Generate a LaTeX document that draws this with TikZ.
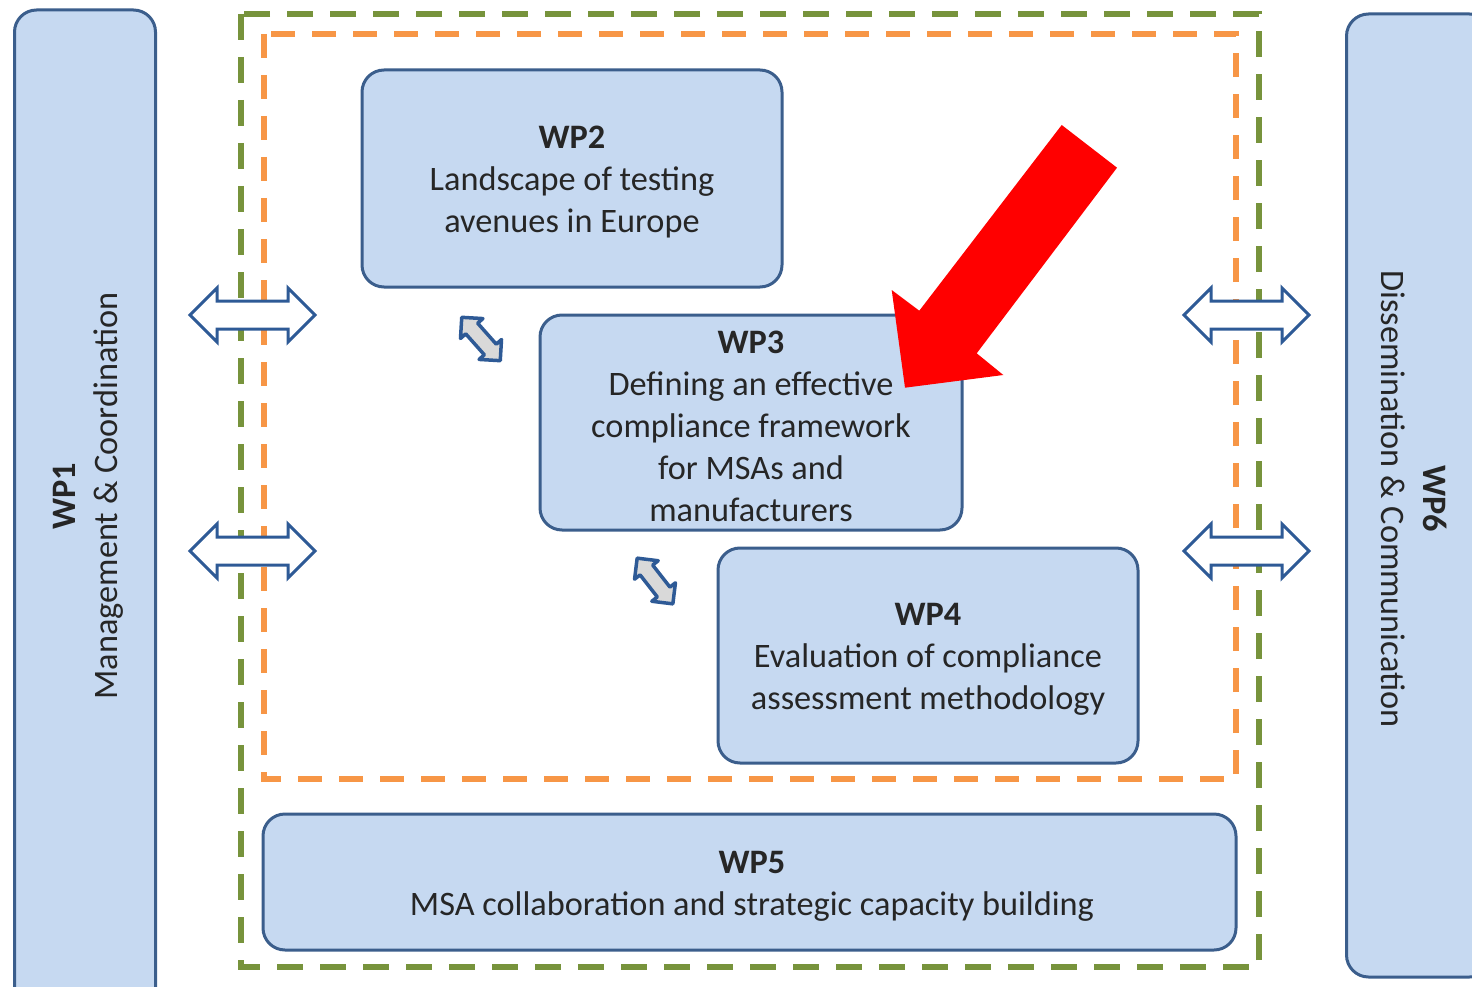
\documentclass[tikz,border=0pt]{standalone}
\usepackage{fontspec}
\setmainfont{Carlito}
\definecolor{boxfill}{HTML}{C6D9F1}
\definecolor{boxline}{HTML}{3B5E8C}
\definecolor{dgreen}{HTML}{77933C}
\definecolor{dorange}{HTML}{F79646}
\definecolor{arrline}{HTML}{2E5A96}
\definecolor{arrgray}{HTML}{D9D9D9}
\newcommand\wparrow[7]{%
  \begin{scope}[shift={#1},rotate=#2]
    \draw[#7] (-#3,0) -- (-#3+#6,#4) -- (-#3+#6,#5) -- (#3-#6,#5) -- (#3-#6,#4) -- (#3,0)
      -- (#3-#6,-#4) -- (#3-#6,-#5) -- (-#3+#6,-#5) -- (-#3+#6,-#4) -- cycle;
  \end{scope}}
\begin{document}
\begin{tikzpicture}[x=1pt,y=-1pt,
  wpbox/.style={draw=boxline, fill=boxfill, line width=3pt, rounded corners=22pt, inner sep=0pt},
  wptext/.style={align=center, inner sep=0pt, font=\fontsize{34.3}{42}\selectfont, text=black!85},
  greendash/.style={draw=dgreen, line width=6pt, dash pattern=on 26pt off 17pt},
  orangedash/.style={draw=dorange, line width=6pt, dash pattern=on 24pt off 17pt},
  bigarr/.style={draw=arrline, fill=white, line width=3pt},
  smallarr/.style={draw=arrline, fill=arrgray, line width=3.5pt, line join=round}]
\useasboundingbox (0,0) rectangle (1472,987);
% dashed frames
\draw[greendash] (241,14) rectangle (1259,967);
\draw[orangedash] (264,34) rectangle (1236,779);
% side boxes
\node[wpbox, minimum width=141pt, minimum height=1000pt] (wp1) at (85,510) {};
\node[wptext, rotate=90] (wp1t) at (88,496) {\textbf{WP1}\\Management \& Coordination};
\node[wpbox, minimum width=145pt, minimum height=963pt] (wp6) at (1419,495.5) {};
\node[wptext, rotate=-90] (wp6t) at (1414,499) {\textbf{WP6}\\Dissemination \& Communication};
% work package boxes
\node[wpbox, minimum width=420pt, minimum height=217pt] (wp2) at (572,178.5) {};
\node[wptext] (wp2t) at (572,182) {\textbf{WP2}\\Landscape of testing\\avenues in Europe};
\node[wpbox, minimum width=422pt, minimum height=215pt] (wp3) at (751,422.5) {};
\node[wptext] (wp3t) at (751,426) {\textbf{WP3}\\Defining an effective\\compliance framework\\for MSAs and\\manufacturers};
\node[wpbox, minimum width=420pt, minimum height=215pt] (wp4) at (928,655.5) {};
\node[wptext] (wp4t) at (928,659) {\textbf{WP4}\\Evaluation of compliance\\assessment methodology};
\node[wpbox, minimum width=973pt, minimum height=136pt] (wp5) at (749.5,882) {};
\node[wptext] (wp5t) at (752,886) {\textbf{WP5}\\MSA collaboration and strategic capacity building};
% double arrows
\wparrow{(252.5,315)}{0}{62.5}{27}{14}{27}{bigarr}
\wparrow{(252.5,551)}{0}{62.5}{27}{14}{27}{bigarr}
\wparrow{(1246.5,315)}{0}{62.5}{27}{14}{27}{bigarr}
\wparrow{(1246.5,551)}{0}{62.5}{27}{14}{27}{bigarr}
\wparrow{(481,339)}{-48.4}{29}{15}{8}{15}{smallarr}
\wparrow{(655,581)}{-52}{29}{15}{8}{15}{smallarr}
% red arrow
\fill[red] (1061.7,125) -- (1117,167.7) -- (976.7,353.3) -- (1003.3,375) -- (905,387.7)
  -- (891.7,290) -- (919.3,310.7) -- cycle;
\end{tikzpicture}
\end{document}
